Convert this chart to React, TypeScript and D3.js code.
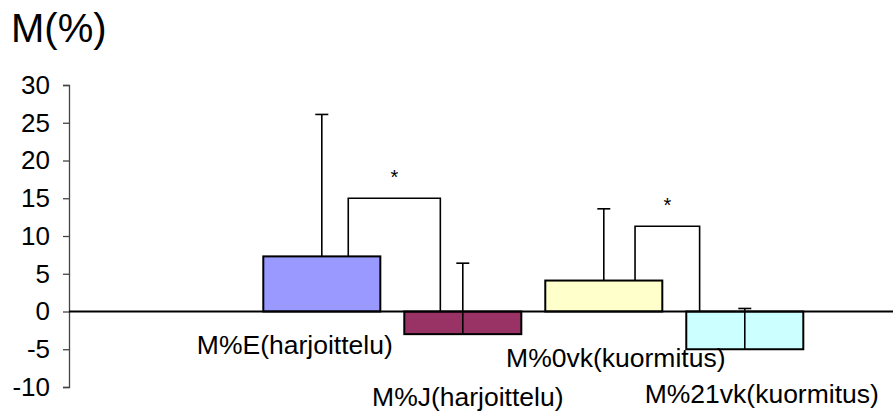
import React, { useEffect, useRef } from "react";
import * as d3 from "d3";

// series (one bar each)
const seriesLabels = [
  "M%E(harjoittelu)",
  "M%J(harjoittelu)",
  "M%0vk(kuormitus)",
  "M%21vk(kuormitus)",
];
const meanValues = [7.3, -3.0, 4.1, -5.0];
const errorValues = [18.8, 9.4, 9.5, 5.4]; // plus-direction error bars
const barColors = ["#9999ff", "#993366", "#ffffcc", "#ccffff"];
const yTicks = [-10, -5, 0, 5, 10, 15, 20, 25, 30];

// significance brackets: between series index pairs, at a given level
const bracketPairs = [
  [0, 1],
  [2, 3],
];
const bracketLevels = [15, 11.3];

const App = () => {
  const svgRef = useRef<SVGSVGElement>(null);

  useEffect(() => {
    const svg = d3.select(svgRef.current);
    svg.selectAll("*").remove();

    const width = 893;
    const height = 415;
    const font = "'Liberation Sans', Arial, sans-serif";
    const axisX = 69;

    const y = d3.scaleLinear().domain([-10, 30]).range([387, 85]);
    const x = d3
      .scaleBand()
      .domain(seriesLabels)
      .range([263.3, 803.3])
      .paddingInner(0.17)
      .paddingOuter(0);
    const bw = x.bandwidth();
    const cx = (i) => (x(seriesLabels[i]) as number) + bw / 2;

    // title
    svg
      .append("text")
      .attr("x", 11)
      .attr("y", 42)
      .attr("font-family", font)
      .attr("font-size", 40)
      .attr("fill", "#000")
      .text("M(%)");

    // y axis
    const yAxis = svg
      .append("g")
      .attr("transform", `translate(${axisX},0)`)
      .call(
        d3
          .axisLeft(y)
          .tickValues(yTicks)
          .tickFormat((d) => String(d))
          .tickSize(6)
          .tickPadding(13)
      );
    yAxis.select(".domain").attr("stroke", "#444").attr("stroke-width", 1.3);
    yAxis.selectAll(".tick line").attr("stroke", "#444").attr("stroke-width", 1.3);
    yAxis
      .selectAll(".tick text")
      .attr("font-family", font)
      .attr("font-size", 26)
      .attr("fill", "#000");

    // bars
    svg
      .append("g")
      .selectAll("rect")
      .data(meanValues)
      .enter()
      .append("rect")
      .attr("x", (d, i) => x(seriesLabels[i]))
      .attr("y", (d) => y(Math.max(0, d)))
      .attr("width", bw)
      .attr("height", (d) => Math.abs(y(d) - y(0)))
      .attr("fill", (d, i) => barColors[i])
      .attr("stroke", "#000")
      .attr("stroke-width", 2);

    // error bars (plus direction from bar end)
    const err = svg.append("g").attr("stroke", "#000").attr("stroke-width", 1.6);
    meanValues.forEach((m, i) => {
      const top = y(m + errorValues[i]);
      err
        .append("line")
        .attr("x1", cx(i))
        .attr("x2", cx(i))
        .attr("y1", y(m))
        .attr("y2", top);
      err
        .append("line")
        .attr("x1", cx(i) - 6.5)
        .attr("x2", cx(i) + 6.5)
        .attr("y1", top)
        .attr("y2", top);
    });

    // zero line
    svg
      .append("line")
      .attr("x1", axisX)
      .attr("x2", width)
      .attr("y1", y(0))
      .attr("y2", y(0))
      .attr("stroke", "#000")
      .attr("stroke-width", 2);

    // brackets with stars
    const legFrac = [
      [0.726, 0.308],
      [0.767, 0.114],
    ];
    const br = svg.append("g");
    bracketPairs.forEach(([a, b], k) => {
      const x1 = (x(seriesLabels[a]) as number) + bw * legFrac[k][0];
      const x2 = (x(seriesLabels[b]) as number) + bw * legFrac[k][1];
      const yTop = y(bracketLevels[k]);
      br.append("path")
        .attr(
          "d",
          `M${x1},${y(Math.max(0, meanValues[a]))}V${yTop}H${x2}V${y(0)}`
        )
        .attr("fill", "none")
        .attr("stroke", "#000")
        .attr("stroke-width", 1.6);
      br.append("text")
        .attr("x", (x1 + x2) / 2)
        .attr("y", yTop - 14)
        .attr("text-anchor", "middle")
        .attr("font-family", font)
        .attr("font-size", 20)
        .text("*");
    });

    // series labels (staggered like the original)
    const labelDx = [-27, 5, 12, 17];
    const labelY = [354, 406, 367, 403];
    svg
      .append("g")
      .selectAll("text")
      .data(seriesLabels)
      .enter()
      .append("text")
      .attr("x", (d, i) => cx(i) + labelDx[i])
      .attr("y", (d, i) => labelY[i])
      .attr("text-anchor", "middle")
      .attr("font-family", font)
      .attr("font-size", 26.5)
      .attr("fill", "#000")
      .text((d) => d);

    svg.attr("width", width).attr("height", height);
  }, []);

  return (
    <svg
      ref={svgRef}
      width={893}
      height={415}
      style={{ position: "absolute", left: 0, top: 0, background: "#fff" }}
    ></svg>
  );
};

export default App;
